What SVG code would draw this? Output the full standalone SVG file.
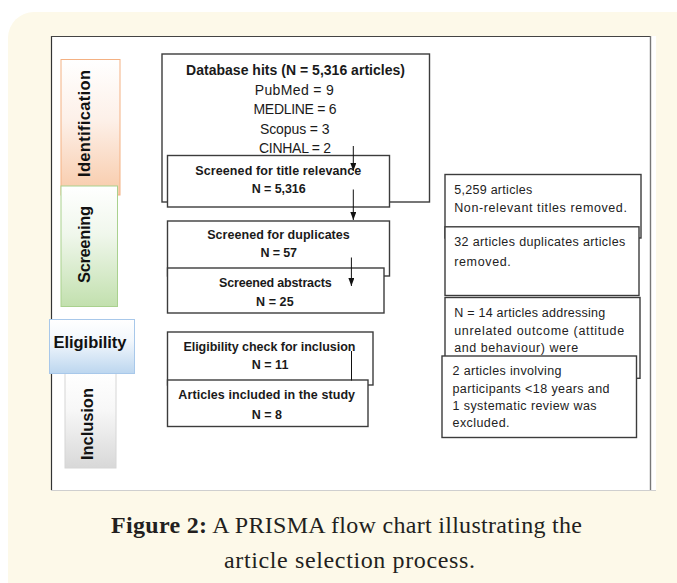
<svg xmlns="http://www.w3.org/2000/svg" width="677" height="583" viewBox="0 0 677 583">
<defs>
<linearGradient id="gOr" x1="0" y1="0" x2="0" y2="1"><stop offset="0" stop-color="#ffffff"/><stop offset="0.45" stop-color="#fdf0e8"/><stop offset="1" stop-color="#f8caa9"/></linearGradient>
<linearGradient id="gGr" x1="0" y1="0" x2="0" y2="1"><stop offset="0" stop-color="#ffffff"/><stop offset="0.4" stop-color="#f0f7ec"/><stop offset="1" stop-color="#c2e0ae"/></linearGradient>
<linearGradient id="gBl" x1="0" y1="0" x2="0" y2="1"><stop offset="0" stop-color="#ffffff"/><stop offset="0.4" stop-color="#f2f7fc"/><stop offset="1" stop-color="#bcd6ef"/></linearGradient>
<linearGradient id="gGy" x1="0" y1="0" x2="0" y2="1"><stop offset="0" stop-color="#ffffff"/><stop offset="0.4" stop-color="#f7f7f7"/><stop offset="1" stop-color="#d8d8d8"/></linearGradient>
<marker id="ah" markerUnits="userSpaceOnUse" markerWidth="8" markerHeight="7" refX="8" refY="3" orient="auto"><path d="M0,0 L8,3 L0,6 z" fill="#111"/></marker>
<style>
.box{fill:#fff;stroke:#3c3c3c;stroke-width:1.4}
.b{font-family:"Liberation Sans",Arial,sans-serif;font-weight:bold;font-size:12.5px;fill:#1a1a1a;text-anchor:middle}
.db{font-family:"Liberation Sans",Arial,sans-serif;font-size:14px;fill:#1a1a1a;text-anchor:middle}
.r{font-family:"Liberation Sans",Arial,sans-serif;font-size:12.5px;fill:#222}
.lbl{font-family:"Liberation Sans",Arial,sans-serif;font-weight:bold;font-size:16.5px;fill:#111;text-anchor:middle}
.cap{font-family:"Liberation Serif","Times New Roman",serif;font-size:24px;fill:#231f20;text-anchor:middle}
.conn{stroke:#111;stroke-width:1;fill:none}
</style>
</defs>

<rect width="677" height="583" fill="#ffffff"/>
<rect x="8" y="12" width="720" height="620" rx="26" fill="#fdf9e9"/>

<g id="panel">
<rect x="51" y="36" width="605" height="455" fill="#ffffff"/>
<line x1="51.5" y1="36" x2="51.5" y2="490" stroke="#333" stroke-width="1.2"/>
<line x1="51" y1="36.5" x2="651" y2="36.5" stroke="#444" stroke-width="1.2"/>
<line x1="650.5" y1="36" x2="650.5" y2="490" stroke="#777" stroke-width="1.4"/>
<line x1="51" y1="490.5" x2="656" y2="490.5" stroke="#cfcfcf" stroke-width="1.2"/>
</g>

<g id="stage-identification">
<rect x="61" y="59.5" width="59" height="135.5" fill="url(#gOr)" stroke="#f4b183" stroke-width="1"/>
<text class="lbl" transform="translate(90,123.5) rotate(-90)" textLength="107">Identification</text>
</g>
<g id="stage-screening">
<rect x="61" y="186" width="56.5" height="120.5" fill="url(#gGr)" stroke="#a9d18e" stroke-width="1"/>
<text class="lbl" transform="translate(89.5,244.5) rotate(-90)" textLength="77">Screening</text>
</g>
<g id="stage-inclusion">
<rect x="65" y="372.5" width="51" height="95.5" fill="url(#gGy)" stroke="#d6d6d6" stroke-width="1"/>
<text class="lbl" transform="translate(92.5,424) rotate(-90)" textLength="72">Inclusion</text>
</g>
<g id="stage-eligibility">
<rect x="49.5" y="319.5" width="85" height="54" fill="url(#gBl)" stroke="#a8c8ea" stroke-width="1"/>
<text class="lbl" x="90" y="348" font-size="17" textLength="73">Eligibility</text>
</g>

<g id="database-hits">
<rect class="box" x="162" y="54" width="267.5" height="148"/>
<text class="db" x="295.5" y="74.5" font-weight="bold" textLength="219">Database hits (N = 5,316 articles)</text>
<text class="db" x="294.3" y="94.5" textLength="79">PubMed = 9</text>
<text class="db" x="295" y="113.5" textLength="83">MEDLINE = 6</text>
<text class="db" x="294.7" y="133.5" textLength="69.5">Scopus = 3</text>
<text class="db" x="295" y="152.5" textLength="72">CINHAL = 2</text>
</g>
<g id="title-screen">
<rect class="box" x="167.5" y="155.5" width="222" height="51.5"/>
<text class="b" x="278.3" y="174.5" textLength="166">Screened for title relevance</text>
<text class="b" x="278.7" y="193" textLength="54">N = 5,316</text>
</g>
<g id="duplicates-screen">
<rect class="box" x="167.5" y="221" width="222" height="55"/>
<text class="b" x="278.5" y="239" textLength="142.5">Screened for duplicates</text>
<text class="b" x="278.7" y="257.3" textLength="36.6">N = 57</text>
</g>
<g id="abstracts-screen">
<rect class="box" x="167.5" y="268" width="216.5" height="45"/>
<text class="b" x="275.3" y="287.3" textLength="112.7">Screened abstracts</text>
<text class="b" x="274.8" y="305.5" textLength="37.6">N = 25</text>
</g>
<g id="eligibility-check">
<rect class="box" x="167.5" y="332" width="205.5" height="53"/>
<text class="b" x="269.4" y="350.5" textLength="172">Eligibility check for inclusion</text>
<text class="b" x="270" y="368.8" textLength="36.7">N = 11</text>
</g>
<g id="included">
<rect class="box" x="167.5" y="380" width="200.5" height="46.5"/>
<text class="b" x="266.7" y="398.5" textLength="176.7">Articles included in the study</text>
<text class="b" x="266.8" y="419.3" textLength="30.3">N = 8</text>
</g>

<g id="excluded-titles">
<rect class="box" x="445" y="174.5" width="196" height="63.5"/>
<text class="r" x="454.2" y="194" textLength="78">5,259 articles</text>
<text class="r" x="454.2" y="212" textLength="172.7">Non-relevant titles removed.</text>
</g>
<g id="excluded-duplicates">
<rect class="box" x="445" y="226.8" width="194" height="68.7"/>
<text class="r" x="454.2" y="245.5" textLength="171">32 articles duplicates articles</text>
<text class="r" x="454.2" y="266" textLength="56.6">removed.</text>
</g>
<g id="excluded-outcome">
<rect class="box" x="445" y="297.5" width="195" height="80.8"/>
<text class="r" x="454.2" y="316.7" textLength="151">N = 14 articles addressing</text>
<text class="r" x="454.2" y="334.6" textLength="170">unrelated outcome (attitude</text>
<text class="r" x="454.2" y="352.4" textLength="124">and behaviour) were</text>
</g>
<g id="excluded-participants">
<rect class="box" x="442" y="356" width="194.5" height="81.5"/>
<text class="r" x="452.5" y="374.5" textLength="109">2 articles involving</text>
<text class="r" x="452.5" y="392.5" textLength="157">participants &lt;18 years and</text>
<text class="r" x="452.5" y="410" textLength="144">1 systematic review was</text>
<text class="r" x="452.5" y="426.5" textLength="57">excluded.</text>
</g>

<g id="connectors">
<line class="conn" x1="353.3" y1="146" x2="353.3" y2="171" marker-end="url(#ah)"/>
<line class="conn" x1="353.3" y1="189.5" x2="353.3" y2="220" marker-end="url(#ah)"/>
<line class="conn" x1="351.4" y1="257.5" x2="351.4" y2="286" marker-end="url(#ah)"/>
<line class="conn" x1="351.5" y1="351" x2="351.5" y2="380.5"/>
</g>

<g id="caption">
<text class="cap" x="346.5" y="532.5" textLength="471"><tspan font-weight="bold">Figure 2:</tspan> A PRISMA flow chart illustrating the</text>
<text class="cap" x="349.5" y="568" font-size="24.5" textLength="251">article selection process.</text>
</g>
</svg>
